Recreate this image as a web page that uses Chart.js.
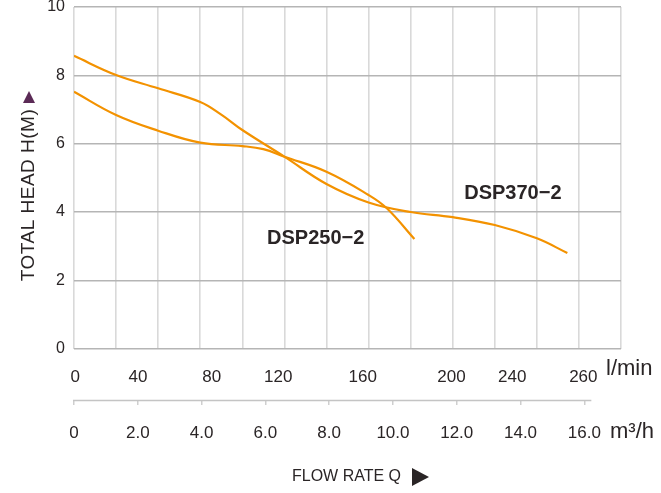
<!DOCTYPE html>
<html>
<head>
<meta charset="utf-8">
<script src="https://cdn.jsdelivr.net/npm/chart.js@4"></script>
<style>
  html, body { margin: 0; padding: 0; background: #fff; }
  canvas { display: block; }
</style>
</head>
<body>
<canvas id="curve" width="661" height="493"></canvas>
<script>
// pump curves, flow in l/min vs total head in m
const flow370 = [0, 20, 40, 60, 70, 80, 100, 120, 140, 160, 180, 200, 220, 234.5];
const head370 = [8.57, 8.01, 7.62, 7.22, 6.85, 6.40, 5.62, 4.82, 4.28, 4.00, 3.85, 3.62, 3.23, 2.80];
const flow250 = [0, 20, 40, 60, 80, 90, 100, 120, 140, 148.7, 161.8];
const head250 = [7.52, 6.84, 6.38, 6.03, 5.93, 5.84, 5.62, 5.18, 4.50, 4.11, 3.21];

// axis ticks
const headTicks = [0, 2, 4, 6, 8, 10];
const lpmLabels = ['0', '40', '80', '120', '160', '200', '240', '260'];
const lpmLabelAt = [0.6, 30.4, 65.5, 97.1, 137.2, 179.4, 208.3, 242.1];
const m3hLabels = ['0', '2.0', '4.0', '6.0', '8.0', '10.0', '12.0', '14.0', '16.0'];

const ORANGE = '#f39200';
const INK = '#2a2526';
const FONT = "'Liberation Sans', Arial, sans-serif";

const toPoints = (xs, ys) => xs.map((x, i) => ({ x: x, y: ys[i] }));

// no padding from label overflow, sizes are set by hand
function noPad(s) {
  s.paddingLeft = 0; s.paddingRight = 0; s.paddingTop = 0; s.paddingBottom = 0;
}

const extraText = {
  id: 'extraText',
  afterDraw(chart) {
    const ctx = chart.ctx;
    const x = chart.scales.x, y = chart.scales.y, m3h = chart.scales.m3h;
    ctx.save();

    // m3/h baseline
    ctx.strokeStyle = '#c4c4c4';
    ctx.lineWidth = 1.5;
    ctx.beginPath();
    ctx.moveTo(m3h.getPixelForValue(0) - 1, m3h.top + 0.5);
    ctx.lineTo(m3h.getPixelForValue(16.22), m3h.top + 0.5);
    ctx.stroke();

    ctx.fillStyle = INK;
    ctx.textBaseline = 'alphabetic';
    ctx.textAlign = 'left';
    ctx.font = '22px ' + FONT;
    ctx.fillText('l/min', 606, 375);
    ctx.fillText('m³/h', 610, 438);

    // series names
    ctx.font = 'bold 20px ' + FONT;
    ctx.textAlign = 'center';
    ctx.textBaseline = 'middle';
    ctx.fillText('DSP370−2', x.getPixelForValue(208.6), y.getPixelForValue(4.53));
    ctx.fillText('DSP250−2', x.getPixelForValue(114.9), y.getPixelForValue(3.22));

    // flow title + arrow
    ctx.font = '16px ' + FONT;
    ctx.textAlign = 'left';
    ctx.fillText('FLOW RATE Q', 292, 477);
    ctx.beginPath();
    ctx.moveTo(412, 468);
    ctx.lineTo(429, 477);
    ctx.lineTo(412, 486);
    ctx.closePath();
    ctx.fill();

    // head title, rotated
    ctx.save();
    ctx.translate(29, 195);
    ctx.rotate(-Math.PI / 2);
    ctx.font = '19px ' + FONT;
    ctx.letterSpacing = '0.5px';
    ctx.textAlign = 'center';
    ctx.fillText('TOTAL HEAD H(M)', 0, 0);
    ctx.restore();
    ctx.fillStyle = '#5b2a56';
    ctx.beginPath();
    ctx.moveTo(29, 91);
    ctx.lineTo(35, 103);
    ctx.lineTo(23, 103);
    ctx.closePath();
    ctx.fill();

    ctx.restore();
  }
};

const ctx = document.getElementById('curve').getContext('2d');
const chart = new Chart(ctx, {
  type: 'line',
  data: {
    datasets: [
      { label: 'DSP370-2', data: toPoints(flow370, head370) },
      { label: 'DSP250-2', data: toPoints(flow250, head250) }
    ]
  },
  options: {
    responsive: false,
    animation: false,
    devicePixelRatio: 1,
    layout: { padding: { top: 7, right: 40, left: 0, bottom: 0 } },
    elements: {
      line: { borderColor: ORANGE, borderWidth: 2.2, tension: 0.4, fill: false },
      point: { radius: 0, hoverRadius: 0 }
    },
    plugins: { legend: { display: false }, tooltip: { enabled: false } },
    scales: {
      x: {
        type: 'linear', position: 'bottom', weight: 0,
        min: 0, max: 260,
        ticks: { stepSize: 20, display: false },
        grid: { color: '#d9d9d9', lineWidth: 1.6, drawTicks: false },
        border: { display: false },
        afterFit: (s) => { s.height = 0; noPad(s); }
      },
      lpm: {
        type: 'linear', position: 'bottom', weight: 1,
        min: 0, max: 260,
        afterBuildTicks: (s) => { s.ticks = lpmLabelAt.map(v => ({ value: v })); },
        ticks: {
          autoSkip: false, maxRotation: 0, padding: 10,
          color: INK, font: { family: FONT, size: 17 },
          callback: (v, i) => lpmLabels[i]
        },
        grid: { display: false },
        border: { display: false },
        afterFit: (s) => { s.height = 51.3; noPad(s); }
      },
      m3h: {
        type: 'linear', position: 'bottom', weight: 2,
        min: 0, max: 17.15,
        ticks: {
          stepSize: 2, includeBounds: false, autoSkip: false, maxRotation: 0, padding: 18,
          color: INK, font: { family: FONT, size: 17 },
          callback: (v, i) => m3hLabels[i]
        },
        grid: { drawOnChartArea: false, drawTicks: true, tickLength: 5, color: '#cfcfcf', lineWidth: 1.5 },
        border: { display: false },
        afterFit: (s) => { s.height = 93; noPad(s); }
      },
      y: {
        type: 'linear', position: 'left',
        min: 0, max: 10,
        afterBuildTicks: (s) => { s.ticks = headTicks.map(v => ({ value: v })); },
        ticks: { padding: 9, color: INK, font: { family: FONT, size: 16 } },
        grid: { color: '#b5b5b5', lineWidth: 1.6, drawTicks: false },
        border: { display: false },
        afterFit: (s) => { s.width = 74; noPad(s); }
      }
    }
  },
  plugins: [extraText]
});
</script>
</body>
</html>
